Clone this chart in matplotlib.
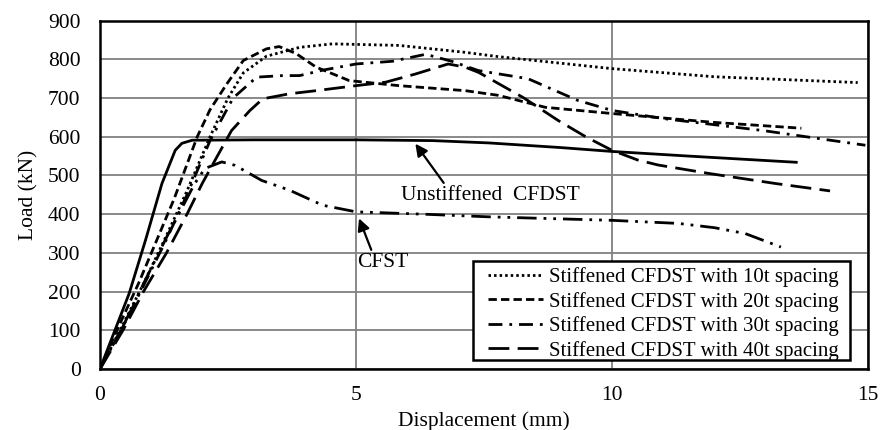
import numpy as np
import matplotlib
matplotlib.use("Agg")
import matplotlib.pyplot as plt
from matplotlib.patches import Rectangle

plt.rcParams['font.family'] = ['Liberation Serif', 'DejaVu Serif']

# displacement (mm) / load (kN)
unst_x = [0, 0.57, 0.89, 1.21, 1.47, 1.6, 1.8, 3, 5, 6.5, 7.6, 9, 10, 11.5, 13.6]
unst_y = [0, 195, 333, 479, 565, 583, 591, 592, 592, 590, 584, 572, 562, 550, 534]

cfst_x = [0, 0.45, 0.85, 1.3, 1.85, 2.05, 2.38, 2.64, 3.16, 3.7, 4.35, 5.0, 6.3, 7.6, 10, 11.3, 12.0, 12.6, 13.3]
cfst_y = [0, 110, 220, 340, 479, 518, 535, 526, 487, 462, 423, 406, 400, 393, 384, 376, 365, 350, 315]

s10_x = [0, 0.45, 0.85, 1.3, 1.7, 2.15, 2.5, 2.8, 3.25, 3.9, 4.54, 5.84, 7.14, 7.78, 10, 12, 14.8]
s10_y = [0, 115, 220, 345, 460, 600, 700, 765, 808, 831, 840, 836, 818, 807, 776, 755, 740]

s20_x = [0, 0.4, 0.75, 1.1, 1.45, 1.9, 2.15, 2.48, 2.8, 3.25, 3.5, 3.83, 4.22, 4.87, 5.84, 7.14, 7.78, 8.7, 10, 12, 13.7]
s20_y = [0, 120, 220, 330, 440, 600, 670, 737, 797, 827, 833, 815, 780, 745, 732, 719, 707, 676, 660, 637, 622]

s30_x = [0, 0.45, 0.85, 1.3, 1.7, 2.15, 2.6, 3.06, 3.57, 3.9, 4.35, 5.0, 5.71, 6.36, 6.87, 7.39, 8.36, 9.33, 10, 11, 12.95, 14.95]
s30_y = [0, 110, 215, 335, 450, 590, 700, 754, 758, 758, 772, 788, 795, 813, 795, 771, 750, 694, 668, 647, 616, 578]

s40_x = [0, 0.45, 0.85, 1.3, 1.7, 2.0, 2.28, 2.57, 2.93, 3.18, 3.7, 4.22, 5.0, 5.58, 6.16, 6.8, 7.13, 7.4, 8.27, 8.95, 9.5, 10, 10.5, 10.9, 11.9, 13.2, 14.26]
s40_y = [0, 100, 200, 300, 400, 480, 547, 616, 668, 698, 711, 719, 732, 741, 762, 788, 780, 766, 701, 642, 599, 565, 540, 527, 505, 479, 460]

fig = plt.figure(figsize=(8.8, 4.3), dpi=100)
ax = fig.add_axes([0.1136, 0.142, 0.8727, 0.810])

lw = 2.0
ax.plot(unst_x, unst_y, color='black', lw=lw, ls='-')
ax.plot(cfst_x, cfst_y, color='black', lw=lw, ls=(0, (7, 2.5, 1, 2.5, 1, 2.5)))
l10, = ax.plot(s10_x, s10_y, color='black', lw=lw, ls=(0, (0.9, 1.1)))
l20, = ax.plot(s20_x, s20_y, color='black', lw=lw, ls=(0, (3, 1.5)))
l30, = ax.plot(s30_x, s30_y, color='black', lw=lw, ls=(0, (5, 2.5, 1, 2.5)))
l40, = ax.plot(s40_x, s40_y, color='black', lw=lw, ls=(0, (7.5, 3)))

ax.set_xlim(0, 15)
ax.set_ylim(0, 900)
ax.set_xticks([0, 5, 10, 15])
ax.set_yticks(np.arange(0, 901, 100))
ax.grid(True, color='#808080', lw=1.3)
ax.set_axisbelow(True)
ax.tick_params(length=0, labelsize=15.5)
ax.tick_params(axis='y', pad=14)
ax.tick_params(axis='x', pad=12)
for s in ax.spines.values():
    s.set_linewidth(1.8)
    s.set_color('black')

ax.set_xlabel('Displacement (mm)', fontsize=15.5, labelpad=5)
ax.set_ylabel('Load (kN)', fontsize=15.5, labelpad=7)

ax.annotate('Unstiffened  CFDST', xy=(6.16, 582), xytext=(5.88, 449),
            fontsize=15.5, va='center', ha='left',
            arrowprops=dict(arrowstyle='-|>', color='black', lw=1.6,
                            shrinkA=0, shrinkB=0, mutation_scale=18,
                            relpos=(0.25, 1.0)))
ax.annotate('CFST', xy=(5.06, 389), xytext=(5.02, 276),
            fontsize=15.5, va='center', ha='left',
            arrowprops=dict(arrowstyle='-|>', color='black', lw=1.6,
                            shrinkA=0, shrinkB=0, mutation_scale=18,
                            relpos=(0.3, 1.0)))

# legend box drawn separately so its padding matches the original
ax.add_patch(Rectangle((0.4857, 0.0258), 0.4909, 0.2842, transform=ax.transAxes,
                       facecolor='white', edgecolor='black', lw=1.8, zorder=4.5))
leg = ax.legend([l10, l20, l30, l40],
                ['Stiffened CFDST with 10t spacing',
                 'Stiffened CFDST with 20t spacing',
                 'Stiffened CFDST with 30t spacing',
                 'Stiffened CFDST with 40t spacing'],
                loc='center left', bbox_to_anchor=(0.505, 0.158),
                borderaxespad=0, borderpad=0, fontsize=15, frameon=False,
                handlelength=2.65, handletextpad=0.29, labelspacing=0.22)
leg.set_zorder(5)

fig.savefig('out.png', dpi=100)
